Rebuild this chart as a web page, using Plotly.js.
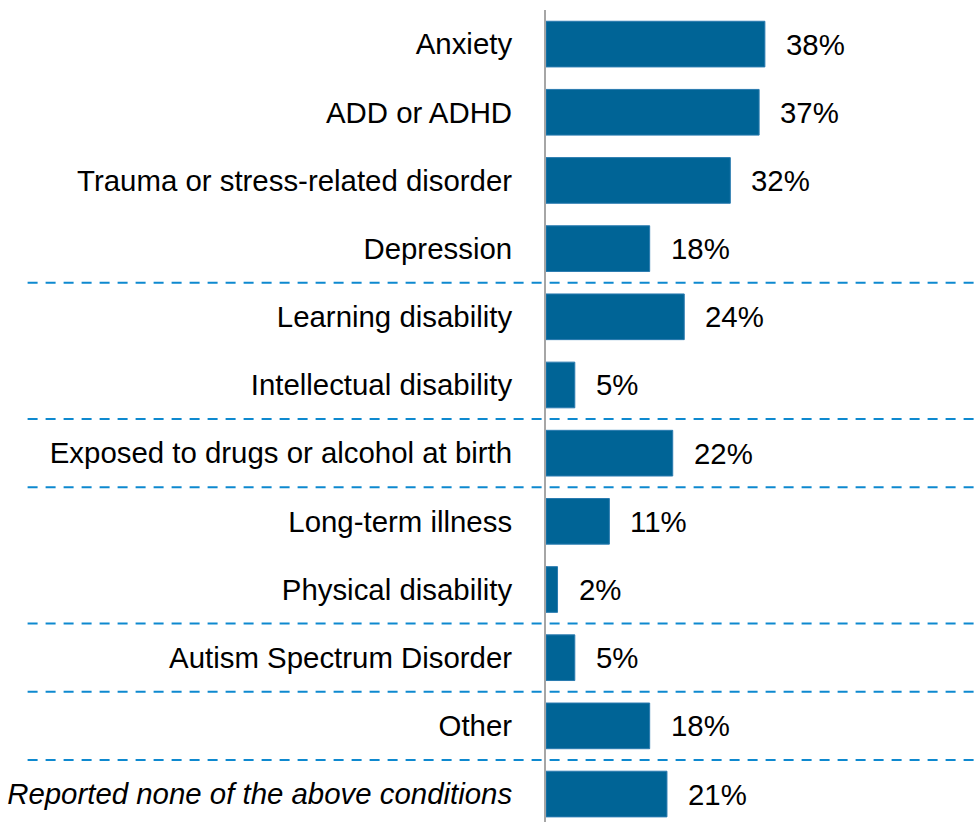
<!DOCTYPE html>
<html>
<head>
<meta charset="utf-8">
<script src="https://cdn.plot.ly/plotly-3.0.1.min.js"></script>
<style>html,body{margin:0;padding:0;background:#fff;}#chart{width:978px;height:822px;}</style>
</head>
<body>
<div id="chart"></div>
<script>
const categories = [
  "Anxiety",
  "ADD or ADHD",
  "Trauma or stress-related disorder",
  "Depression",
  "Learning disability",
  "Intellectual disability",
  "Exposed to drugs or alcohol at birth",
  "Long-term illness",
  "Physical disability",
  "Autism Spectrum Disorder",
  "Other",
  "Reported none of the above conditions"
];
const values = [38, 37, 32, 18, 24, 5, 22, 11, 2, 5, 18, 21];
const italicCategories = ["Reported none of the above conditions"];
const separatorsAfter = [3, 5, 6, 8, 9, 10];

const idx = categories.map((c, i) => i);
const tickText = categories.map(c => italicCategories.includes(c) ? "<i>" + c + "</i>" : c);

const trace = {
  type: "bar",
  orientation: "h",
  x: values,
  y: idx,
  marker: { color: "#006496", line: { color: "#2a7bb0", width: 1 } },
  hoverinfo: "skip",
  width: 0.67
};

const annotations = values.map((v, i) => ({
  x: v, y: i, xref: "x", yref: "y",
  text: v + "%", showarrow: false,
  xanchor: "left", yanchor: "middle", xshift: 19,
  font: { family: "Liberation Sans, Arial, sans-serif", size: 29.4, color: "#000" }
}));

const shapes = separatorsAfter.map(s => ({
  type: "line", xref: "paper", yref: "y",
  x0: -1.2, x1: 1, y0: s + 0.5, y1: s + 0.5,
  line: { color: "#0e89cf", width: 2, dash: "10px,8px" }
}));

const layout = {
  width: 978, height: 822,
  margin: { l: 546, r: 0, t: 10, b: 0, pad: 0 },
  paper_bgcolor: "#fff", plot_bgcolor: "#fff",
  showlegend: false,
  font: { family: "Liberation Sans, Arial, sans-serif", size: 29.4, color: "#000" },
  xaxis: { range: [0, 75], visible: false, fixedrange: true },
  yaxis: {
    range: [11.41, -0.5],
    tickmode: "array", tickvals: idx, ticktext: tickText,
    showline: true, linecolor: "#a6a6a6", linewidth: 2,
    showgrid: false, zeroline: false, ticks: "",
    ticklabelstandoff: 26,
    tickfont: { family: "Liberation Sans, Arial, sans-serif", size: 29.4, color: "#000" }
  },
  annotations: annotations,
  shapes: shapes
};

Plotly.newPlot("chart", [trace], layout, { displayModeBar: false, staticPlot: true });
</script>
</body>
</html>
